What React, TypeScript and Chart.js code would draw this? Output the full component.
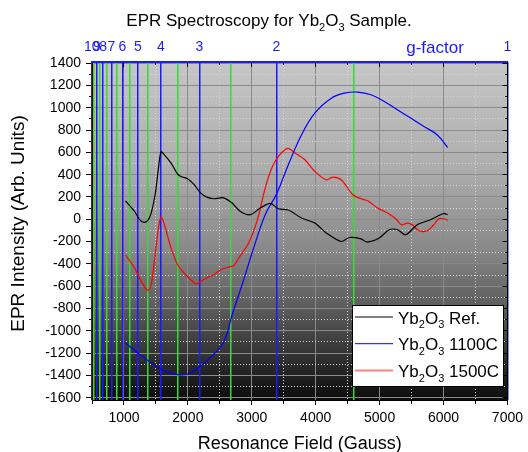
import React, { useEffect, useRef } from 'react';
import { Chart, registerables } from 'chart.js';

Chart.register(...registerables);

// ---------------- data ----------------
const seriesNames = ['Yb₂O₃ Ref.', 'Yb₂O₃ 1100C', 'Yb₂O₃ 1500C'];
const lineColors = ['#000000', '#0000ff', '#ff0000'];
const legendColors = ['#808080', '#0000ff', '#ff8080'];
const legendWidths = [2, 1, 2];

const refField = [1023, 1100, 1167, 1245, 1312, 1374, 1426, 1488, 1540, 1581, 1633, 1737, 1840, 1892, 1995, 2098, 2202, 2305, 2408, 2486, 2564, 2692, 2823, 2978, 3133, 3288, 3417, 3572, 3779, 3986, 4166, 4399, 4528, 4709, 4802, 4994, 5149, 5279, 5408, 5589, 5796, 6004, 6065];
const refIntensity = [165, 115, 70, -4, -28, -10, 56, 220, 459, 605, 578, 504, 405, 384, 363, 310, 235, 196, 184, 190, 192, 146, 70, 41, 101, 142, 95, 83, 11, -34, -123, -199, -163, -175, -204, -168, -94, -94, -139, -49, -4, 52, 41];

const c1100Field = [1023, 1219, 1426, 1633, 1840, 1995, 2176, 2357, 2564, 2690, 2848, 3029, 3210, 3390, 3572, 3779, 3986, 4245, 4451, 4658, 4865, 5072, 5279, 5486, 5693, 5899, 6065];
const c1100Intensity = [-1109, -1199, -1288, -1357, -1393, -1387, -1326, -1236, -1095, -860, -587, -258, 41, 230, 489, 758, 952, 1086, 1131, 1140, 1116, 1056, 982, 907, 832, 758, 644];

const c1500Field = [1023, 1167, 1270, 1374, 1426, 1488, 1540, 1581, 1633, 1737, 1840, 1943, 2046, 2124, 2202, 2305, 2408, 2512, 2615, 2719, 2797, 2951, 3081, 3210, 3313, 3417, 3562, 3676, 3831, 3986, 4166, 4270, 4399, 4581, 4709, 4813, 4969, 5124, 5253, 5341, 5434, 5512, 5616, 5744, 5848, 5925, 6004, 6065];
const c1500Intensity = [-318, -437, -557, -638, -587, -318, -78, 20, -49, -258, -407, -482, -542, -580, -557, -521, -497, -452, -432, -414, -347, -213, -19, 280, 459, 563, 635, 594, 534, 429, 354, 378, 354, 220, 184, 166, 101, 56, 5, -49, -34, -49, -103, -103, -49, 5, 5, -10];

const xTickValues = [500, 1000, 1500, 2000, 2500, 3000, 3500, 4000, 4500, 5000, 5500, 6000, 6500, 7000];
const yTickValues = [-1600, -1500, -1400, -1300, -1200, -1100, -1000, -900, -800, -700, -600, -500, -400, -300, -200, -100, 0, 100, 200, 300, 400, 500, 600, 700, 800, 900, 1000, 1100, 1200, 1300, 1400];

// top g-factor axis
const gMajor = [10, 9, 8, 7, 6, 5, 4, 3, 2, 1];
const gMinor = [9.5, 8.5, 7.5, 6.5, 5.5, 4.5, 3.5, 2.5, 1.5];
const G_CONST = 7228;
const G_OFFSET = 228;
const gToField = (g: number) => G_CONST / g - G_OFFSET;

const TITLE = 'EPR Spectroscopy for Yb₂O₃ Sample.';
const X_TITLE = 'Resonance Field (Gauss)';
const Y_TITLE = 'EPR Intensity (Arb. Units)';
const TOP_TITLE = 'g-factor';

// ---------------- styles ----------------
const FONT = 'Arial, "Liberation Sans", sans-serif';
const MAJOR_GRID = '#8a8a8a';
const MINOR_GRID = '#d4d4d4';
const G_BLUE = '#1a1aff';
const G_GREEN = '#33dd33';

const SUBS: Record<string, string> = { '₀': '0', '₁': '1', '₂': '2', '₃': '3', '₄': '4', '₅': '5', '₆': '6', '₇': '7', '₈': '8', '₉': '9' };

function drawRich(ctx: CanvasRenderingContext2D, text: string, x: number, y: number, size: number, align: 'left' | 'center', color: string) {
  const segs: { t: string; sub: boolean }[] = [];
  for (const ch of text) {
    const sub = SUBS[ch] !== undefined;
    const t = sub ? SUBS[ch] : ch;
    const last = segs[segs.length - 1];
    if (last && last.sub === sub) last.t += t;
    else segs.push({ t, sub });
  }
  const subSize = Math.round(size * 0.65);
  const fontFor = (sub: boolean) => `${sub ? subSize : size}px ${FONT}`;
  let w = 0;
  for (const s of segs) {
    ctx.font = fontFor(s.sub);
    w += ctx.measureText(s.t).width;
  }
  let cx = align === 'center' ? x - w / 2 : x;
  ctx.save();
  ctx.fillStyle = color;
  ctx.textAlign = 'left';
  ctx.textBaseline = 'alphabetic';
  for (const s of segs) {
    ctx.font = fontFor(s.sub);
    ctx.fillText(s.t, cx, s.sub ? y + size * 0.28 : y);
    cx += ctx.measureText(s.t).width;
  }
  ctx.restore();
}

const bgPlugin = {
  id: 'bgGradient',
  beforeDraw(chart: any) {
    const { ctx, chartArea } = chart;
    if (!chartArea) return;
    const { left, top, right, bottom } = chartArea;
    const g = ctx.createLinearGradient(0, top, 0, bottom);
    g.addColorStop(0, '#c6c6c6');
    g.addColorStop(0.3, '#afafaf');
    g.addColorStop(0.55, '#8a8a8a');
    g.addColorStop(0.75, '#555555');
    g.addColorStop(1, '#0c0c0c');
    ctx.save();
    ctx.fillStyle = g;
    ctx.fillRect(left, top, right - left, bottom - top);
    ctx.restore();
  },
};

const decorPlugin = {
  id: 'decor',
  afterDraw(chart: any) {
    const ctx: CanvasRenderingContext2D = chart.ctx;
    // chart title
    drawRich(ctx, TITLE, 269, 26, 17, 'center', '#000');
    // y axis title
    ctx.save();
    ctx.translate(18.5, 223.5);
    ctx.rotate(-Math.PI / 2);
    ctx.fillStyle = '#000';
    ctx.font = `19px ${FONT}`;
    ctx.textAlign = 'center';
    ctx.textBaseline = 'middle';
    ctx.fillText(Y_TITLE, 0, 0);
    ctx.restore();
    // top axis name
    ctx.save();
    ctx.fillStyle = G_BLUE;
    ctx.font = `17px ${FONT}`;
    ctx.textAlign = 'center';
    ctx.textBaseline = 'alphabetic';
    ctx.fillText(TOP_TITLE, 435, 53);
    ctx.restore();
    // legend
    const bx = 352, by = 305, bw = 151, bh = 81;
    ctx.save();
    ctx.fillStyle = '#ffffff';
    ctx.fillRect(bx, by, bw, bh);
    ctx.strokeStyle = '#000';
    ctx.lineWidth = 1;
    ctx.strokeRect(bx + 0.5, by + 0.5, bw, bh);
    seriesNames.forEach((name, i) => {
      const ly = by + 12 + i * 26.7;
      ctx.strokeStyle = legendColors[i];
      ctx.lineWidth = legendWidths[i];
      ctx.beginPath();
      ctx.moveTo(355, ly);
      ctx.lineTo(393, ly);
      ctx.stroke();
      drawRich(ctx, name, 398, ly + 6.5, 17, 'left', '#000');
    });
    ctx.restore();
  },
};

const isMajorX = (c: any) => c.tick && c.tick.value % 1000 === 0;
const isMajorY = (c: any) => c.tick && c.tick.value % 200 === 0;

export default function App() {
  const canvasRef = useRef<HTMLCanvasElement | null>(null);

  useEffect(() => {
    if (!canvasRef.current) return;
    Chart.defaults.font.family = FONT;
    Chart.defaults.color = '#000';

    const mk = (xs: number[], ys: number[]) => xs.map((x, i) => ({ x, y: ys[i] }));

    const chart = new Chart(canvasRef.current, {
      type: 'line',
      data: {
        datasets: [
          { label: seriesNames[0], data: mk(refField, refIntensity), borderColor: lineColors[0], borderWidth: 1.2, pointRadius: 0, tension: 0.3, fill: false, xAxisID: 'x', yAxisID: 'y' },
          { label: seriesNames[1], data: mk(c1100Field, c1100Intensity), borderColor: lineColors[1], borderWidth: 1.2, pointRadius: 0, tension: 0.4, fill: false, xAxisID: 'x', yAxisID: 'y' },
          { label: seriesNames[2], data: mk(c1500Field, c1500Intensity), borderColor: lineColors[2], borderWidth: 1.2, pointRadius: 0, tension: 0.3, fill: false, xAxisID: 'x', yAxisID: 'y' },
        ],
      },
      options: {
        responsive: false,
        animation: false,
        devicePixelRatio: 1,
        layout: { padding: { left: 0, top: 0, right: 17, bottom: 0 } },
        plugins: { legend: { display: false }, tooltip: { enabled: false }, title: { display: false } },
        scales: {
          x: {
            type: 'linear', position: 'bottom', min: 500, max: 7000, bounds: 'data',
            afterBuildTicks: (s: any) => { s.ticks = xTickValues.map((v) => ({ value: v })); },
            afterFit: (s: any) => { s.height = 52; },
            ticks: { autoSkip: false, maxRotation: 0, minRotation: 0, padding: 5, color: '#000', font: { size: 14 }, callback: (v: any) => (Number(v) % 1000 === 0 ? String(v) : '') },
            grid: {
              color: (c: any) => (isMajorX(c) ? MAJOR_GRID : MINOR_GRID), lineWidth: 1,
              tickLength: 5, tickColor: '#000', tickWidth: 1,
              tickBorderDash: (c: any) => (isMajorX(c) ? [] : [3, 100]),
            },
            border: { color: '#000', width: 1, dash: (c: any) => (c.tick && !isMajorX(c) ? [1, 2] : []) },
            title: { display: true, text: X_TITLE, color: '#000', font: { size: 18, lineHeight: 1 }, padding: { top: 0, bottom: -1 } },
          },
          y: {
            type: 'linear', position: 'left', min: -1620, max: 1410, bounds: 'data',
            afterBuildTicks: (s: any) => { s.ticks = yTickValues.map((v) => ({ value: v })); },
            afterFit: (s: any) => { s.width = 92; },
            ticks: { autoSkip: false, padding: 5, color: '#000', font: { size: 14 }, callback: (v: any) => (Number(v) % 200 === 0 ? String(v) : '') },
            grid: {
              color: (c: any) => (isMajorY(c) ? MAJOR_GRID : MINOR_GRID), lineWidth: 1,
              tickLength: 6, tickColor: '#000', tickWidth: 1,
              tickBorderDash: (c: any) => (isMajorY(c) ? [] : [0, 3, 3, 100]),
            },
            border: { color: '#000', width: 1, dash: (c: any) => (c.tick && !isMajorY(c) ? [1, 2] : []) },
            title: { display: false },
          },
          x2: {
            type: 'linear', position: 'top', min: 500, max: 7000, bounds: 'data', weight: 1,
            afterBuildTicks: (s: any) => { s.ticks = [...gMajor, ...gMinor].map((g) => ({ value: gToField(g) })); },
            afterFit: (s: any) => { s.height = 62; },
            ticks: { autoSkip: false, maxRotation: 0, minRotation: 0, padding: 6, color: G_BLUE, font: { size: 14 }, callback: (_v: any, i: number) => (i < gMajor.length ? String(gMajor[i]) : '') },
            grid: { drawTicks: false, lineWidth: 1.5, color: (c: any) => (c.index < gMajor.length ? G_BLUE : G_GREEN) },
            border: { display: false },
          },
          xTop: {
            type: 'linear', position: 'top', min: 500, max: 7000, bounds: 'data', weight: 0,
            afterBuildTicks: (s: any) => { s.ticks = xTickValues.map((v) => ({ value: v })); },
            afterFit: (s: any) => { s.height = 0; },
            ticks: { display: false },
            grid: {
              drawOnChartArea: false, tickLength: -5, tickColor: '#000', tickWidth: 1,
              tickBorderDash: (c: any) => (isMajorX(c) ? [] : [0, 2, 4, 100]),
            },
            border: { color: G_BLUE, width: 2 },
          },
          yRight: {
            type: 'linear', position: 'right', min: -1620, max: 1410, bounds: 'data',
            afterBuildTicks: (s: any) => { s.ticks = yTickValues.map((v) => ({ value: v })); },
            afterFit: (s: any) => { s.width = 0; },
            ticks: { display: false },
            grid: {
              drawOnChartArea: false, tickLength: -5, tickColor: '#000', tickWidth: 1,
              tickBorderDash: (c: any) => (isMajorY(c) ? [] : [3, 100]),
            },
            border: { color: '#000', width: 1 },
          },
        },
      } as any,
      plugins: [bgPlugin, decorPlugin],
    });
    return () => chart.destroy();
  }, []);

  return (
    <div style={{ position: 'fixed', left: 0, top: 0, width: 528, height: 452, background: '#fff' }}>
      <canvas ref={canvasRef} width={528} height={452} style={{ display: 'block', width: 528, height: 452 }} />
    </div>
  );
}
